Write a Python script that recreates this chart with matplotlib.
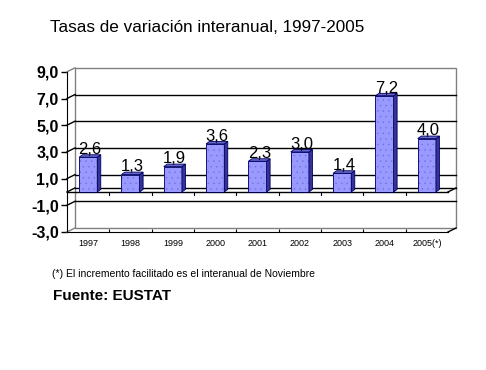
import matplotlib
matplotlib.use("Agg")
import matplotlib.pyplot as plt
from matplotlib.patches import Polygon

plt.rcParams['font.family'] = ['Liberation Sans', 'DejaVu Sans']
plt.rcParams['hatch.linewidth'] = 0.3

# ---- data ----
categories = ["1997", "1998", "1999", "2000", "2001", "2002", "2003", "2004", "2005(*)"]
values = [2.6, 1.3, 1.9, 3.6, 2.3, 3.0, 1.4, 7.2, 4.0]
value_labels = ["2,6", "1,3", "1,9", "3,6", "2,3", "3,0", "1,4", "7,2", "4,0"]
y_ticks = [-3, -1, 1, 3, 5, 7, 9]
y_tick_labels = ["-3,0", "-1,0", "1,0", "3,0", "5,0", "7,0", "9,0"]
title = "Tasas de variación interanual, 1997-2005"
note = "(*) El incremento facilitado es el interanual de Noviembre"
source = "Fuente: EUSTAT"

W, H = 486, 370
fig = plt.figure(figsize=(W / 100, H / 100), dpi=100)
# front plane of the chart in pixels
x0, x1 = 67, 448
yb, yt = 232, 232 - 12 * 13.35
ax = fig.add_axes([x0 / W, 1 - yb / H, (x1 - x0) / W, (yb - yt) / H])
n = len(categories)
ax.set_xlim(-0.5, n - 0.5)
ax.set_ylim(-3, 9)
ax.patch.set_visible(False)

px_x = (x1 - x0) / n
px_y = 13.35
WX, WY = 8 / px_x, 4 / px_y        # wall depth
BX, BY = 3.5 / px_x, 2.5 / px_y    # bar depth

L, R = -0.5, n - 0.5
gray = '#808080'
# back wall
ax.add_patch(Polygon([(L + WX, -3 + WY), (R + WX, -3 + WY), (R + WX, 9 + WY), (L + WX, 9 + WY)],
                     closed=True, facecolor='white', edgecolor=gray, lw=1, clip_on=False, zorder=1))
# side wall edges
ax.plot([L, L + WX], [9, 9 + WY], color=gray, lw=1, clip_on=False, zorder=2)
ax.plot([L, L + WX], [-3, -3 + WY], color=gray, lw=1, clip_on=False, zorder=2)
ax.plot([R, R + WX], [-3, -3 + WY], color='black', lw=1, clip_on=False, zorder=2)
# gridlines
for v in [-1, 1, 3, 5, 7]:
    ax.plot([L + WX, R + WX], [v + WY, v + WY], color='black', lw=1, clip_on=False, zorder=2)
    ax.plot([L, L + WX], [v, v + WY], color='black', lw=1, clip_on=False, zorder=2)
# floor at zero
ax.plot([L + WX, R + WX], [WY, WY], color='black', lw=1, clip_on=False, zorder=2)
ax.plot([L, R], [0, 0], color='black', lw=1, clip_on=False, zorder=3)
ax.plot([R, R + WX], [0, WY], color='black', lw=1, clip_on=False, zorder=3)
ax.plot([L, L + WX], [0, WY], color='black', lw=1, clip_on=False, zorder=3)
for b in range(1, n):
    ax.plot([b - 0.5, b - 0.5], [0, -3 / px_y], color='black', lw=0.8, zorder=3)

# bars
bw = 0.43
xs = list(range(n))
ax.bar(xs, values, width=bw, color='#9999FF', edgecolor='#7070D8', hatch='...', lw=0, zorder=4)
ax.bar(xs, values, width=bw, fill=False, edgecolor='#000060', lw=0.6, zorder=5)
for i, v in enumerate(values):
    xr, xl = i + bw / 2, i - bw / 2
    ax.add_patch(Polygon([(xr, 0), (xr + BX, BY), (xr + BX, v + BY), (xr, v)], closed=True,
                         facecolor='#333399', edgecolor='#000060', lw=0.6, zorder=5))
    ax.add_patch(Polygon([(xl, v), (xr, v), (xr + BX, v + BY), (xl + BX, v + BY)], closed=True,
                         facecolor='#6666CC', edgecolor='#000060', lw=0.6, zorder=5))
    ax.text(i + BX / 2, v + BY + 0.05, value_labels[i], ha='center', va='baseline',
            fontsize=12, zorder=6)

# axes
for s in ['top', 'right']:
    ax.spines[s].set_visible(False)
ax.spines['left'].set_color('black')
ax.spines['bottom'].set_color('black')
ax.spines['left'].set_zorder(3)
ax.set_yticks(y_ticks)
ax.set_yticklabels(y_tick_labels, fontsize=11.5, fontweight='bold')
ax.tick_params(axis='y', length=4, width=1, pad=2)
ax.set_xticks(xs)
ax.set_xticklabels(categories, fontsize=6.5)
ax.tick_params(axis='x', length=0, pad=5)
ax.set_xticks([b - 0.5 for b in range(1, n)], minor=True)
ax.tick_params(axis='x', which='minor', direction='in', length=2, width=0.8)

fig.text(50 / W, 1 - 32 / H, title, fontsize=12.3, ha='left', va='baseline')
fig.text(52 / W, 1 - 277 / H, note, fontsize=7.5, ha='left', va='baseline')
fig.text(53 / W, 1 - 299.5 / H, source, fontsize=11, fontweight='bold', ha='left', va='baseline')

fig.savefig('out.png', dpi=100)
